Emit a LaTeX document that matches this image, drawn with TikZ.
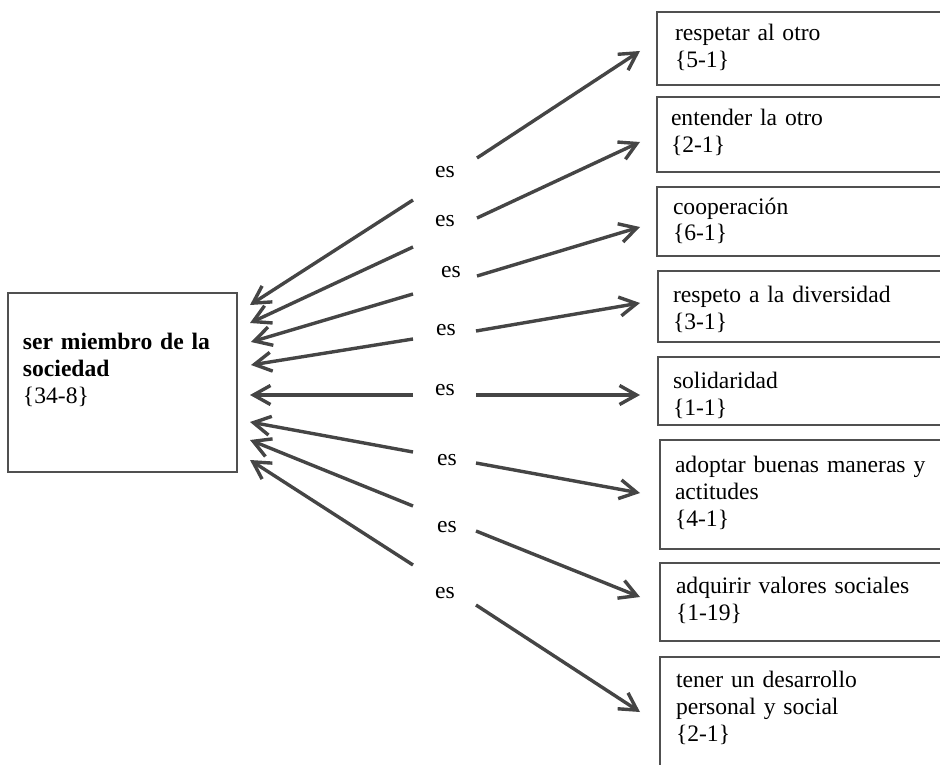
\documentclass[tikz,border=0pt]{standalone}
\usepackage{fontspec}
\setmainfont{Liberation Serif}
\usetikzlibrary{arrows.meta}
\definecolor{boxline}{HTML}{505050}
\definecolor{arrowline}{HTML}{454545}
\begin{document}
\begin{tikzpicture}[x=1pt,y=-1pt,
  every node/.style={inner sep=0pt, outer sep=0pt},
  box/.style={draw=boxline, line width=2pt, anchor=north west, rectangle},
  boxtext/.style={anchor=base west, text width=260pt, align=left,
    font=\fontsize{23.6}{27}\selectfont},
  eslabel/.style={font=\fontsize{23.6}{27}\selectfont},
  link/.style={draw=arrowline, line width=3.4pt,
    -{Straight Barb[length=17pt,width=19pt]}}]
\useasboundingbox (0,0) rectangle (940,765);
\clip (0,0) rectangle (940,765);

% central concept
\node[box, minimum width=229pt, minimum height=179pt] (soc) at (8,293) {};
\node[boxtext, text width=215pt] (soct) at (23,349)
  {\textbf{ser miembro de la}\\\textbf{sociedad}\\\{34-8\}};

% related concepts (their right sides run past the page edge)
\node[box, minimum width=300pt, minimum height=73pt]  (b1) at (657,12) {};
\node[box, minimum width=300pt, minimum height=75pt]  (b2) at (657,97) {};
\node[box, minimum width=300pt, minimum height=69pt]  (b3) at (657,187) {};
\node[box, minimum width=300pt, minimum height=71pt]  (b4) at (658,271) {};
\node[box, minimum width=300pt, minimum height=68pt]  (b5) at (658,357) {};
\node[box, minimum width=300pt, minimum height=109pt] (b6) at (660,440) {};
\node[box, minimum width=300pt, minimum height=78pt]  (b7) at (660,563) {};
\node[box, minimum width=300pt, minimum height=140pt] (b8) at (660,657) {};

\node[boxtext] (t1) at (675,41)  {respetar al otro\\\{5-1\}};
\node[boxtext] (t2) at (671,126) {entender la otro\\\{2-1\}};
\node[boxtext] (t3) at (673,214) {cooperación\\\{6-1\}};
\node[boxtext] (t4) at (673,302) {respeto a la diversidad\\\{3-1\}};
\node[boxtext] (t5) at (673,388) {solidaridad\\\{1-1\}};
\node[boxtext] (t6) at (675,472) {adoptar buenas maneras y\\actitudes\\\{4-1\}};
\node[boxtext] (t7) at (676,593) {adquirir valores sociales\\\{1-19\}};
\node[boxtext] (t8) at (676,687) {tener un desarrollo\\personal y social\\\{2-1\}};

% relation labels
\node[eslabel] (es1) at (445,172) {es};
\node[eslabel] (es2) at (445,221) {es};
\node[eslabel] (es3) at (451,272) {es};
\node[eslabel] (es4) at (446,330) {es};
\node[eslabel] (es5) at (445,390) {es};
\node[eslabel] (es6) at (447,460) {es};
\node[eslabel] (es7) at (447,527) {es};
\node[eslabel] (es8) at (445,593) {es};

% arrow ends towards the central concept
\coordinate (ls1) at (413,200); \coordinate (lt1) at (250,305);
\coordinate (ls2) at (413,247); \coordinate (lt2) at (250,323);
\coordinate (ls3) at (413,294); \coordinate (lt3) at (251,342);
\coordinate (ls4) at (413,339); \coordinate (lt4) at (251,365);
\coordinate (ls5) at (413,395); \coordinate (lt5) at (250,395);
\coordinate (ls6) at (413,452); \coordinate (lt6) at (250,422);
\coordinate (ls7) at (413,506); \coordinate (lt7) at (250,440);
\coordinate (ls8) at (413,565); \coordinate (lt8) at (250,460);

% arrow ends towards the related concepts
\coordinate (rs1) at (477,158); \coordinate (rt1) at (640,51);
\coordinate (rs2) at (477,218); \coordinate (rt2) at (640,142);
\coordinate (rs3) at (477,276); \coordinate (rt3) at (640,227);
\coordinate (rs4) at (476,331); \coordinate (rt4) at (640,303);
\coordinate (rs5) at (476,395); \coordinate (rt5) at (640,395);
\coordinate (rs6) at (476,463); \coordinate (rt6) at (640,493);
\coordinate (rs7) at (476,531); \coordinate (rt7) at (640,597);
\coordinate (rs8) at (476,605); \coordinate (rt8) at (640,712);

\foreach \i in {1,...,8} {
  \draw[link] (ls\i) -- (lt\i);
  \draw[link] (rs\i) -- (rt\i);
}
\end{tikzpicture}
\end{document}
